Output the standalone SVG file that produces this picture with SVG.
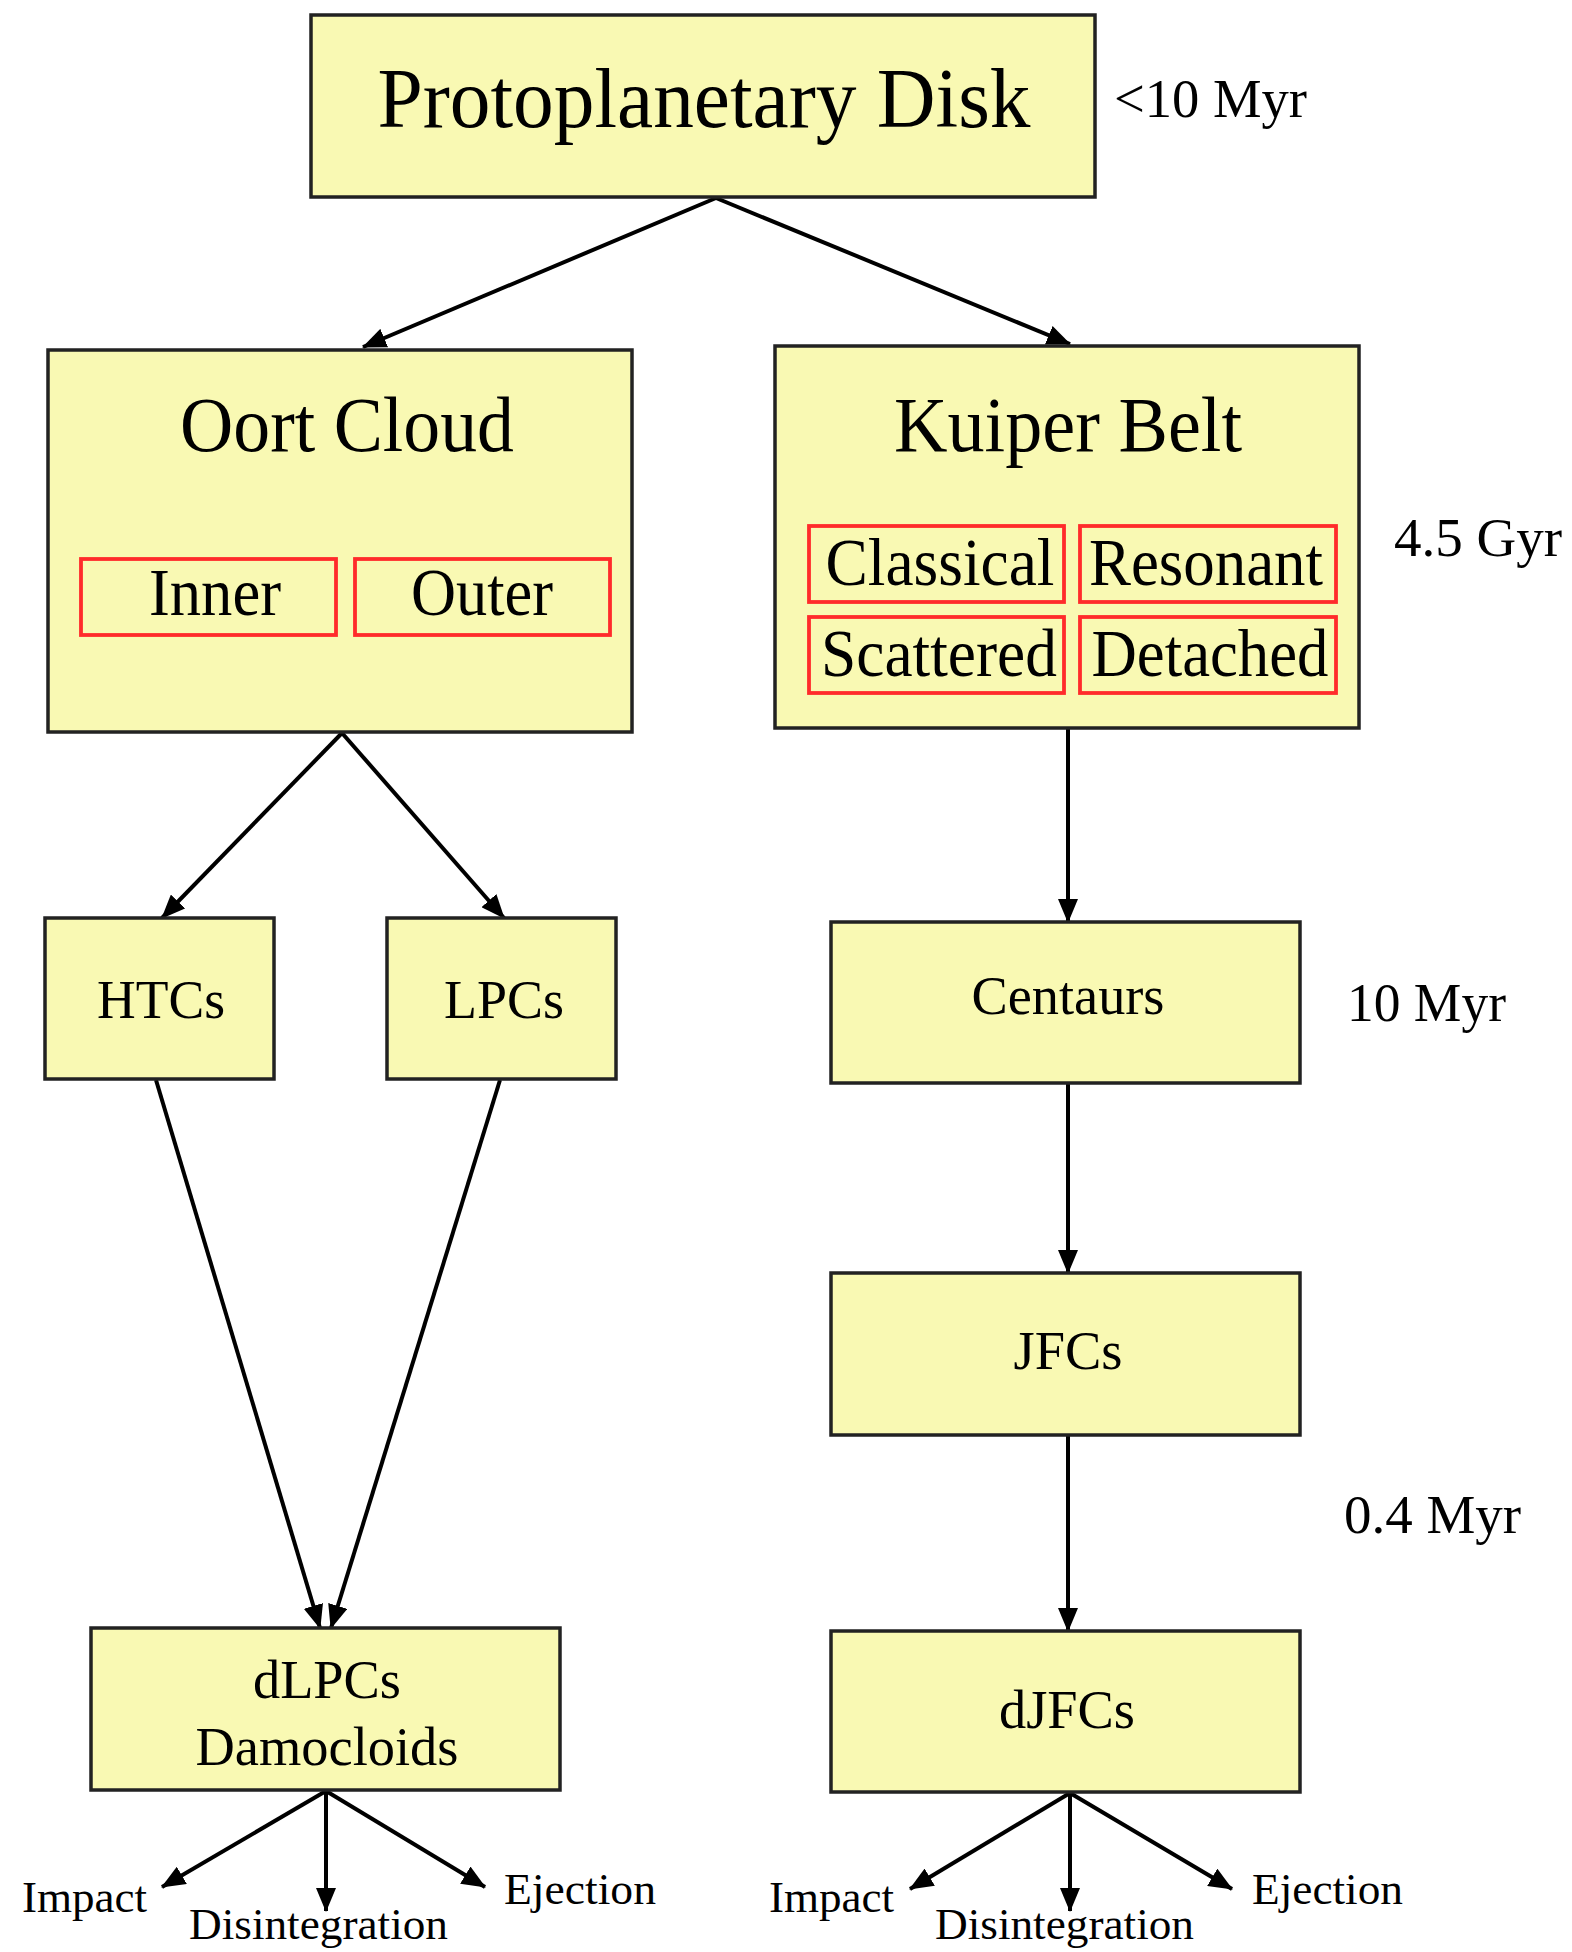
<svg xmlns="http://www.w3.org/2000/svg" width="1572" height="1952" viewBox="0 0 1572 1952">
<style>
.box{fill:#f9f9b3;stroke:#222;stroke-width:3.5}
.sub{fill:none;stroke:#ff2b2b;stroke-width:3.8}
text{font-family:"Liberation Serif","Times New Roman",serif;fill:#000}
.c{text-anchor:middle}
.ln{stroke:#000;stroke-width:4;fill:none;marker-end:url(#ah)}
</style>
<defs>
<marker id="ah" viewBox="0 0 24 20" refX="23" refY="10" markerWidth="24" markerHeight="20" markerUnits="userSpaceOnUse" orient="auto">
<path d="M0,0 L24,10 L0,20 Z" fill="#000"/>
</marker>
</defs>
<rect width="1572" height="1952" fill="#fff"/>
<g id="connectors">
<line class="ln" x1="716" y1="198" x2="363" y2="347"/>
<line class="ln" x1="716" y1="198" x2="1070" y2="344"/>
<line class="ln" x1="342" y1="733" x2="162" y2="918"/>
<line class="ln" x1="342" y1="733" x2="504" y2="918"/>
<line class="ln" x1="1068" y1="729" x2="1068" y2="922"/>
<line class="ln" x1="1068" y1="1084" x2="1068" y2="1273"/>
<line class="ln" x1="1068" y1="1436" x2="1068" y2="1631"/>
<line class="ln" x1="156" y1="1080" x2="320" y2="1628"/>
<line class="ln" x1="500" y1="1080" x2="331" y2="1628"/>
<line class="ln" x1="326" y1="1791" x2="162" y2="1887"/>
<line class="ln" x1="326" y1="1791" x2="326" y2="1911"/>
<line class="ln" x1="326" y1="1791" x2="485" y2="1887"/>
<line class="ln" x1="1070" y1="1793" x2="910" y2="1889"/>
<line class="ln" x1="1070" y1="1793" x2="1070" y2="1911"/>
<line class="ln" x1="1070" y1="1793" x2="1232" y2="1889"/>
</g>
<g id="protoplanetary">
<rect class="box" x="311" y="15" width="784" height="182"/>
<text class="c" x="704" y="127" font-size="84" textLength="653" lengthAdjust="spacingAndGlyphs">Protoplanetary Disk</text>
</g>
<g id="label-10myr"><text x="1114" y="117" font-size="54" textLength="193" lengthAdjust="spacingAndGlyphs">&lt;10 Myr</text></g>
<g id="oort">
<rect class="box" x="48" y="350" width="584" height="382"/>
<text class="c" x="347" y="451" font-size="78" textLength="334" lengthAdjust="spacingAndGlyphs">Oort Cloud</text>
<rect class="sub" x="81" y="559" width="255" height="76"/>
<text class="c" x="215" y="615" font-size="68" textLength="132" lengthAdjust="spacingAndGlyphs">Inner</text>
<rect class="sub" x="355" y="559" width="255" height="76"/>
<text class="c" x="482" y="615" font-size="68" textLength="142" lengthAdjust="spacingAndGlyphs">Outer</text>
</g>
<g id="kuiper">
<rect class="box" x="775" y="346" width="584" height="382"/>
<text class="c" x="1068" y="451" font-size="78" textLength="348" lengthAdjust="spacingAndGlyphs">Kuiper Belt</text>
<rect class="sub" x="809" y="526" width="255" height="76"/>
<text class="c" x="940" y="585" font-size="68" textLength="229" lengthAdjust="spacingAndGlyphs">Classical</text>
<rect class="sub" x="1080" y="526" width="256" height="76"/>
<text class="c" x="1206" y="585" font-size="68" textLength="234" lengthAdjust="spacingAndGlyphs">Resonant</text>
<rect class="sub" x="809" y="617" width="255" height="76"/>
<text class="c" x="939" y="676" font-size="68" textLength="236" lengthAdjust="spacingAndGlyphs">Scattered</text>
<rect class="sub" x="1080" y="617" width="256" height="76"/>
<text class="c" x="1210" y="676" font-size="68" textLength="237" lengthAdjust="spacingAndGlyphs">Detached</text>
</g>
<g id="label-45gyr"><text x="1394" y="556" font-size="55" textLength="168" lengthAdjust="spacingAndGlyphs">4.5 Gyr</text></g>
<g id="htcs">
<rect class="box" x="45" y="918" width="229" height="161"/>
<text class="c" x="161" y="1018" font-size="54" textLength="128" lengthAdjust="spacingAndGlyphs">HTCs</text>
</g>
<g id="lpcs">
<rect class="box" x="387" y="918" width="229" height="161"/>
<text class="c" x="504" y="1018" font-size="54" textLength="120" lengthAdjust="spacingAndGlyphs">LPCs</text>
</g>
<g id="centaurs">
<rect class="box" x="831" y="922" width="469" height="161"/>
<text class="c" x="1068" y="1014" font-size="54" textLength="193" lengthAdjust="spacingAndGlyphs">Centaurs</text>
</g>
<g id="label-10myr-b"><text x="1347" y="1021" font-size="54" textLength="159" lengthAdjust="spacingAndGlyphs">10 Myr</text></g>
<g id="jfcs">
<rect class="box" x="831" y="1273" width="469" height="162"/>
<text class="c" x="1068" y="1369" font-size="54" textLength="109" lengthAdjust="spacingAndGlyphs">JFCs</text>
</g>
<g id="label-04myr"><text x="1344" y="1533" font-size="55" textLength="177" lengthAdjust="spacingAndGlyphs">0.4 Myr</text></g>
<g id="dlpcs">
<rect class="box" x="91" y="1628" width="469" height="162"/>
<text class="c" x="327" y="1698" font-size="54" textLength="148" lengthAdjust="spacingAndGlyphs">dLPCs</text>
<text class="c" x="327" y="1765" font-size="54" textLength="263" lengthAdjust="spacingAndGlyphs">Damocloids</text>
</g>
<g id="djfcs">
<rect class="box" x="831" y="1631" width="469" height="161"/>
<text class="c" x="1067" y="1728" font-size="54" textLength="136" lengthAdjust="spacingAndGlyphs">dJFCs</text>
</g>
<g id="outcomes-left">
<text x="22" y="1912" font-size="45" textLength="125" lengthAdjust="spacingAndGlyphs">Impact</text>
<text x="189" y="1939" font-size="45" textLength="259" lengthAdjust="spacingAndGlyphs">Disintegration</text>
<text x="504" y="1904" font-size="45" textLength="152" lengthAdjust="spacingAndGlyphs">Ejection</text>
</g>
<g id="outcomes-right">
<text x="769" y="1912" font-size="45" textLength="125" lengthAdjust="spacingAndGlyphs">Impact</text>
<text x="935" y="1939" font-size="45" textLength="259" lengthAdjust="spacingAndGlyphs">Disintegration</text>
<text x="1252" y="1904" font-size="45" textLength="151" lengthAdjust="spacingAndGlyphs">Ejection</text>
</g>
</svg>
